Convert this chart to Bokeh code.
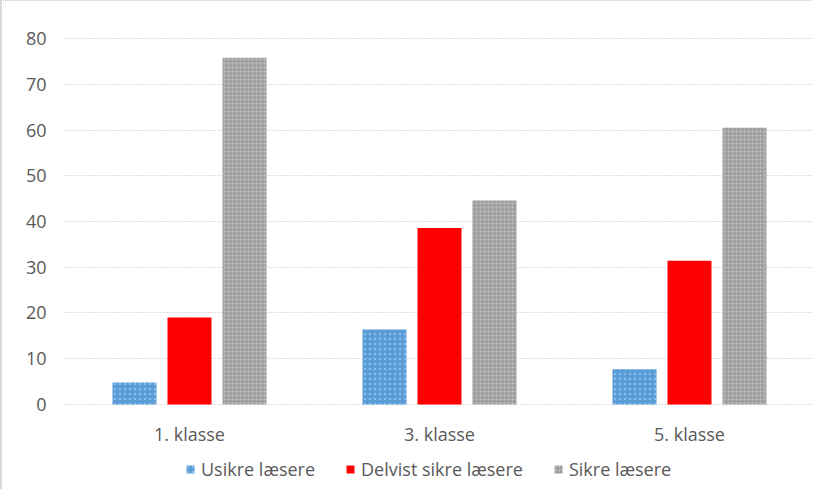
from bokeh.plotting import figure
from bokeh.models import ColumnDataSource, Legend, LegendItem, FactorRange
from bokeh.core.properties import value
from bokeh.transform import dodge
from bokeh.embed import file_html
from bokeh.resources import INLINE

categories = ["1. klasse", "3. klasse", "5. klasse"]
usikre = [4.8, 16.4, 7.7]
delvist = [19.0, 38.6, 31.4]
sikre = [75.8, 44.6, 60.5]
series_names = ["Usikre læsere", "Delvist sikre læsere", "Sikre læsere"]
y_ticks = [0, 10, 20, 30, 40, 50, 60, 70, 80]

src = ColumnDataSource(dict(cat=categories, u=usikre, d=delvist, s=sikre))

FONT = "Open Sans"
TXT = "#595959"
FS = "18px"
LABEL_Y = -6.5  # category label row, in value units below the baseline

styles_u = dict(fill_color="#5b9bd5", line_color=None,
                hatch_pattern="dot", hatch_color="#9fd3ff", hatch_alpha=0.6, hatch_scale=5)
styles_d = dict(fill_color="#ff0000", line_color=None)
styles_s = dict(fill_color="#a0a0a0", line_color=None,
                hatch_pattern="dot", hatch_color="#d8d8d8", hatch_alpha=0.7, hatch_scale=4)

p = figure(x_range=FactorRange(*categories, range_padding=0), y_range=(-18.8, 80.22),
           width=812, height=489, output_backend="svg", toolbar_location=None,
           min_border_left=62, min_border_right=0, min_border_top=36, min_border_bottom=0)
p.outline_line_color = None
p.styles = {"border-left": "2px solid #d9d9d9", "border-top": "1px dotted #c8c8c8"}

bw = 0.176
r1 = p.vbar(x=dodge("cat", -0.22, range=p.x_range), top="u", width=bw, source=src, **styles_u)
r2 = p.vbar(x=dodge("cat", 0.0, range=p.x_range), top="d", width=bw, source=src, **styles_d)
r3 = p.vbar(x=dodge("cat", 0.22, range=p.x_range), top="s", width=bw, source=src, **styles_s)

# category labels under the bars
lab = ColumnDataSource(dict(cat=categories, y=[LABEL_Y] * len(categories), t=categories))
p.text(x="cat", y="y", text="t", source=lab, text_font=value(FONT), text_color=TXT,
       text_font_size=FS, text_align="center", text_baseline="middle")

p.xgrid.grid_line_color = None
p.ygrid.grid_line_color = "#bfbfbf"
p.ygrid.grid_line_dash = "1 2"
p.ygrid.grid_line_width = 1
p.yaxis.ticker = y_ticks
p.xaxis.visible = False

ax = p.yaxis[0]
ax.axis_line_color = None
ax.major_tick_line_color = None
ax.minor_tick_line_color = None
ax.major_tick_out = 0
ax.major_tick_in = 0
ax.minor_tick_out = 0
ax.minor_tick_in = 0
ax.major_label_text_font = FONT
ax.major_label_text_color = TXT
ax.major_label_text_font_size = FS
ax.major_label_standoff = 18

legend = Legend(items=[LegendItem(label=series_names[0], renderers=[r1]),
                       LegendItem(label=series_names[1], renderers=[r2]),
                       LegendItem(label=series_names[2], renderers=[r3])],
                orientation="horizontal", location=(121, 9),
                label_text_font=FONT, label_text_color=TXT, label_text_font_size=FS,
                glyph_width=10, glyph_height=10, spacing=30, label_standoff=6,
                border_line_color=None, background_fill_alpha=0, padding=0, margin=0)
p.add_layout(legend, "center")

open("out.html", "w").write(file_html(p, INLINE))
